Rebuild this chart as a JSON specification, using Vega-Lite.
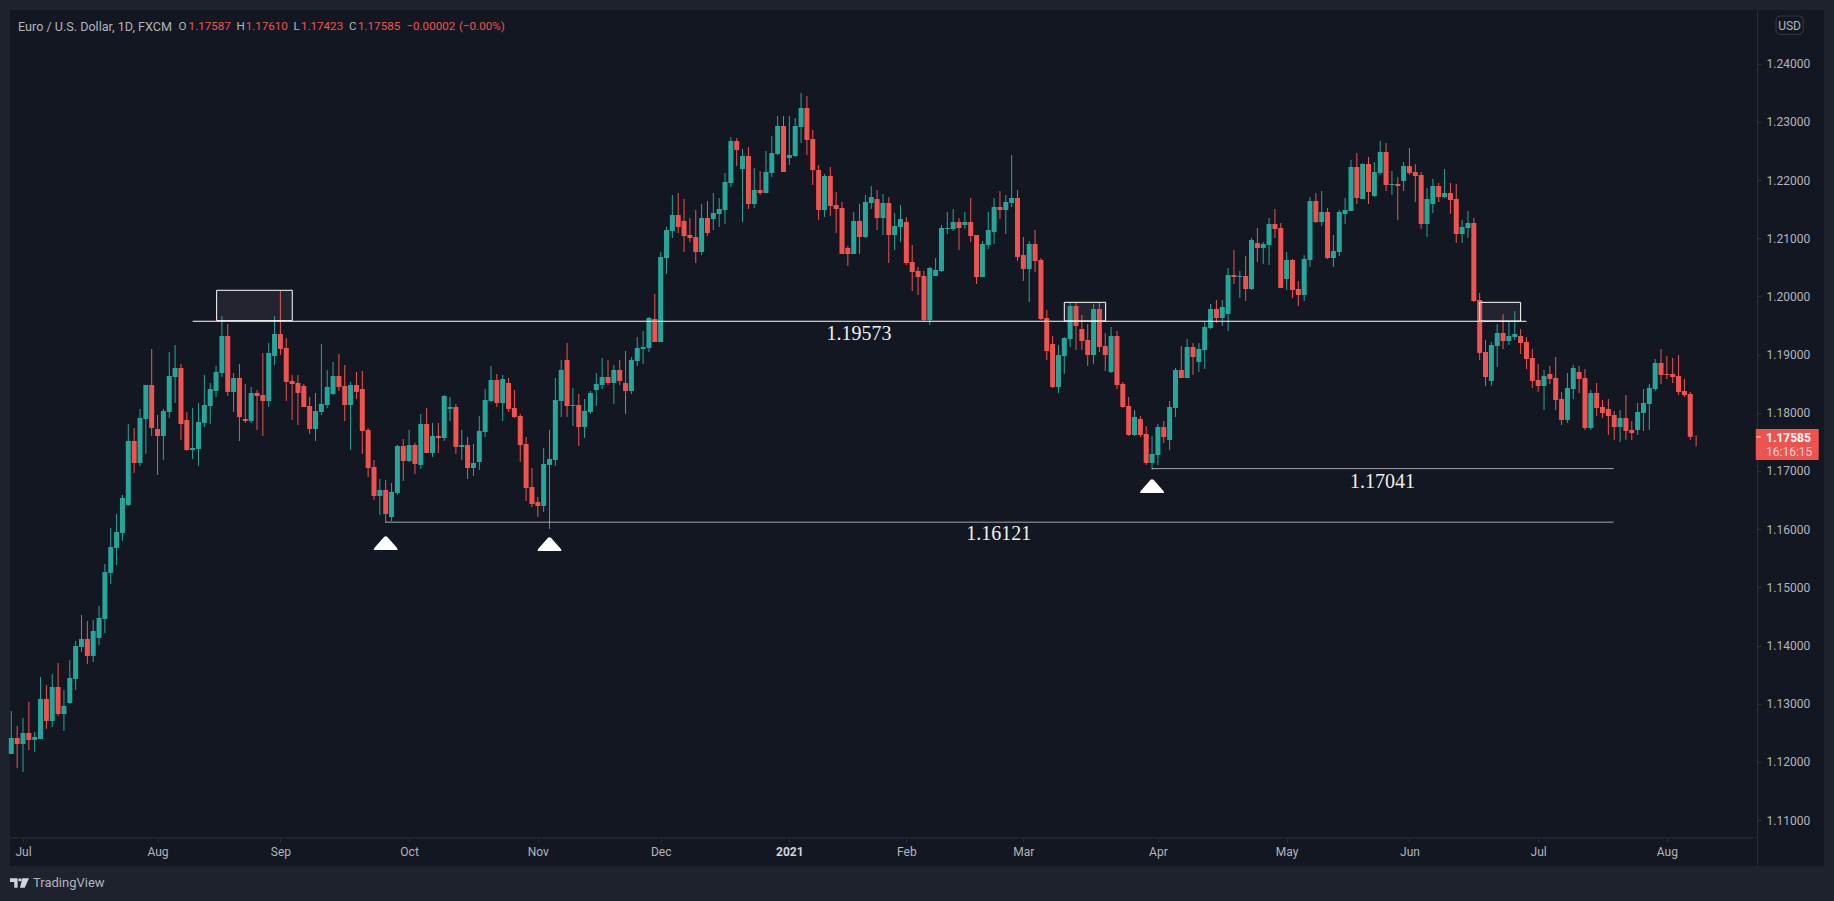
{"$schema":"https://vega.github.io/schema/vega-lite/v6.json","width":1814,"height":856,"autosize":"none","padding":{"left":10,"top":10,"right":10,"bottom":35},"background":"#1e222d","view":{"fill":"#131722","stroke":null},"config":{"font":"Roboto","scale":{"continuousPadding":0}},
"datasets":{"candles":[
{"i":1,"o":1.12138,"h":1.12877,"l":1.12138,"c":1.12413},{"i":2,"o":1.12413,"h":1.12619,"l":1.11898,"c":1.12310},{"i":3,"o":1.12310,"h":1.12757,"l":1.11829,"c":1.12499},{"i":4,"o":1.12499,"h":1.13032,"l":1.12207,"c":1.12379},{"i":5,"o":1.12379,"h":1.12516,"l":1.12173,"c":1.12430},{"i":6,"o":1.12396,"h":1.13461,"l":1.12396,"c":1.13083},{"i":7,"o":1.13083,"h":1.13324,"l":1.12568,"c":1.12705},{"i":8,"o":1.12705,"h":1.13513,"l":1.12602,"c":1.13289},{"i":9,"o":1.13289,"h":1.13702,"l":1.12791,"c":1.12825},{"i":10,"o":1.12825,"h":1.13238,"l":1.12533,"c":1.12963},
{"i":11,"o":1.13014,"h":1.13753,"l":1.12997,"c":1.13444},{"i":12,"o":1.13427,"h":1.14080,"l":1.13238,"c":1.13994},{"i":13,"o":1.13977,"h":1.14526,"l":1.13891,"c":1.14114},{"i":14,"o":1.14114,"h":1.14423,"l":1.13684,"c":1.13822},{"i":15,"o":1.13822,"h":1.14440,"l":1.13719,"c":1.14251},{"i":16,"o":1.14131,"h":1.14681,"l":1.14011,"c":1.14475},{"i":17,"o":1.14458,"h":1.15403,"l":1.14217,"c":1.15265},{"i":18,"o":1.15248,"h":1.16021,"l":1.15059,"c":1.15695},{"i":19,"o":1.15677,"h":1.16262,"l":1.15385,"c":1.15952},{"i":20,"o":1.15935,"h":1.16588,"l":1.15798,"c":1.16537},
{"i":21,"o":1.16416,"h":1.17808,"l":1.16399,"c":1.17516},{"i":22,"o":1.17516,"h":1.17739,"l":1.16966,"c":1.17138},{"i":23,"o":1.17138,"h":1.18066,"l":1.17086,"c":1.17911},{"i":24,"o":1.17894,"h":1.18478,"l":1.17293,"c":1.18478},{"i":25,"o":1.18478,"h":1.19097,"l":1.17602,"c":1.17739},{"i":26,"o":1.17722,"h":1.17963,"l":1.16932,"c":1.17602},{"i":27,"o":1.17602,"h":1.18066,"l":1.17189,"c":1.18031},{"i":28,"o":1.18014,"h":1.19045,"l":1.17911,"c":1.18633},{"i":29,"o":1.18615,"h":1.19165,"l":1.18169,"c":1.18770},{"i":30,"o":1.18770,"h":1.18839,"l":1.17533,"c":1.17808},
{"i":31,"o":1.17877,"h":1.18014,"l":1.17344,"c":1.17361},{"i":32,"o":1.17361,"h":1.18083,"l":1.17207,"c":1.17396},{"i":33,"o":1.17378,"h":1.18169,"l":1.17086,"c":1.17842},{"i":34,"o":1.17825,"h":1.18650,"l":1.17756,"c":1.18134},{"i":35,"o":1.18117,"h":1.18512,"l":1.17808,"c":1.18409},{"i":36,"o":1.18375,"h":1.18804,"l":1.18272,"c":1.18701},{"i":37,"o":1.18684,"h":1.19663,"l":1.18615,"c":1.19320},{"i":38,"o":1.19320,"h":1.19526,"l":1.18289,"c":1.18358},{"i":39,"o":1.18358,"h":1.18684,"l":1.18014,"c":1.18598},{"i":40,"o":1.18598,"h":1.18839,"l":1.17516,"c":1.17928},
{"i":41,"o":1.17894,"h":1.18495,"l":1.17825,"c":1.17859},{"i":42,"o":1.17859,"h":1.18444,"l":1.17825,"c":1.18341},{"i":43,"o":1.18341,"h":1.18392,"l":1.17705,"c":1.18289},{"i":44,"o":1.18306,"h":1.19028,"l":1.17602,"c":1.18203},{"i":45,"o":1.18203,"h":1.19200,"l":1.18100,"c":1.19028},{"i":46,"o":1.18976,"h":1.19663,"l":1.18822,"c":1.19354},{"i":47,"o":1.19354,"h":1.20093,"l":1.18993,"c":1.19097},{"i":48,"o":1.19114,"h":1.19285,"l":1.18203,"c":1.18530},{"i":49,"o":1.18547,"h":1.18650,"l":1.17877,"c":1.18495},{"i":50,"o":1.18512,"h":1.18650,"l":1.17791,"c":1.18341},
{"i":51,"o":1.18461,"h":1.18495,"l":1.18100,"c":1.18100},{"i":52,"o":1.18117,"h":1.18272,"l":1.17636,"c":1.17722},{"i":53,"o":1.17722,"h":1.18341,"l":1.17516,"c":1.18031},{"i":54,"o":1.18014,"h":1.19182,"l":1.17963,"c":1.18152},{"i":55,"o":1.18134,"h":1.18736,"l":1.18083,"c":1.18444},{"i":56,"o":1.18323,"h":1.18873,"l":1.18306,"c":1.18633},{"i":57,"o":1.18633,"h":1.19011,"l":1.18375,"c":1.18444},{"i":58,"o":1.18461,"h":1.18822,"l":1.17859,"c":1.18134},{"i":59,"o":1.18134,"h":1.18530,"l":1.17361,"c":1.18478},{"i":60,"o":1.18478,"h":1.18701,"l":1.18237,"c":1.18358},
{"i":61,"o":1.18409,"h":1.18719,"l":1.17293,"c":1.17688},{"i":62,"o":1.17705,"h":1.17739,"l":1.16897,"c":1.17052},{"i":63,"o":1.17069,"h":1.17189,"l":1.16502,"c":1.16571},{"i":64,"o":1.16571,"h":1.16863,"l":1.16244,"c":1.16674},{"i":65,"o":1.16674,"h":1.16846,"l":1.16107,"c":1.16262},{"i":66,"o":1.16210,"h":1.16794,"l":1.16141,"c":1.16640},{"i":67,"o":1.16622,"h":1.17447,"l":1.16588,"c":1.17430},{"i":68,"o":1.17430,"h":1.17550,"l":1.16829,"c":1.17172},{"i":69,"o":1.17172,"h":1.17705,"l":1.17155,"c":1.17447},{"i":70,"o":1.17447,"h":1.17482,"l":1.16949,"c":1.17121},
{"i":71,"o":1.17104,"h":1.17980,"l":1.17035,"c":1.17808},{"i":72,"o":1.17808,"h":1.18083,"l":1.17310,"c":1.17310},{"i":73,"o":1.17310,"h":1.17825,"l":1.17241,"c":1.17602},{"i":74,"o":1.17602,"h":1.17825,"l":1.17310,"c":1.17567},{"i":75,"o":1.17567,"h":1.18306,"l":1.17516,"c":1.18289},{"i":76,"o":1.18066,"h":1.18272,"l":1.17859,"c":1.18100},{"i":77,"o":1.18100,"h":1.18152,"l":1.17293,"c":1.17413},{"i":78,"o":1.17413,"h":1.17705,"l":1.17189,"c":1.17447},{"i":79,"o":1.17447,"h":1.17585,"l":1.16863,"c":1.17052},{"i":80,"o":1.17052,"h":1.17464,"l":1.16915,"c":1.17138},
{"i":81,"o":1.17155,"h":1.17945,"l":1.17018,"c":1.17688},{"i":82,"o":1.17670,"h":1.18409,"l":1.17585,"c":1.18220},{"i":83,"o":1.18203,"h":1.18804,"l":1.18186,"c":1.18564},{"i":84,"o":1.18564,"h":1.18667,"l":1.18100,"c":1.18169},{"i":85,"o":1.18169,"h":1.18650,"l":1.17859,"c":1.18581},{"i":86,"o":1.18512,"h":1.18598,"l":1.18014,"c":1.18066},{"i":87,"o":1.18083,"h":1.18392,"l":1.17911,"c":1.17928},{"i":88,"o":1.17945,"h":1.17980,"l":1.17155,"c":1.17447},{"i":89,"o":1.17464,"h":1.17585,"l":1.16485,"c":1.16708},{"i":90,"o":1.16726,"h":1.17052,"l":1.16382,"c":1.16433},
{"i":91,"o":1.16468,"h":1.16554,"l":1.16210,"c":1.16399},{"i":92,"o":1.16399,"h":1.17396,"l":1.16296,"c":1.17121},{"i":93,"o":1.17104,"h":1.17705,"l":1.16004,"c":1.17207},{"i":94,"o":1.17189,"h":1.18598,"l":1.17086,"c":1.18220},{"i":95,"o":1.18203,"h":1.18908,"l":1.17928,"c":1.18736},{"i":96,"o":1.18908,"h":1.19200,"l":1.17928,"c":1.18117},{"i":97,"o":1.18117,"h":1.18426,"l":1.17774,"c":1.18134},{"i":98,"o":1.18134,"h":1.18323,"l":1.17430,"c":1.17756},{"i":99,"o":1.17756,"h":1.18237,"l":1.17567,"c":1.18031},{"i":100,"o":1.18014,"h":1.18375,"l":1.17980,"c":1.18341},
{"i":101,"o":1.18392,"h":1.18684,"l":1.18117,"c":1.18495},{"i":102,"o":1.18478,"h":1.18942,"l":1.18409,"c":1.18615},{"i":103,"o":1.18615,"h":1.18908,"l":1.18478,"c":1.18512},{"i":104,"o":1.18512,"h":1.18822,"l":1.18152,"c":1.18736},{"i":105,"o":1.18736,"h":1.18908,"l":1.18478,"c":1.18547},{"i":106,"o":1.18512,"h":1.19062,"l":1.17980,"c":1.18375},{"i":107,"o":1.18375,"h":1.18959,"l":1.18323,"c":1.18908},{"i":108,"o":1.18890,"h":1.19303,"l":1.18804,"c":1.19114},{"i":109,"o":1.19097,"h":1.19406,"l":1.18839,"c":1.19131},{"i":110,"o":1.19114,"h":1.19646,"l":1.19045,"c":1.19629},
{"i":111,"o":1.19612,"h":1.20041,"l":1.19217,"c":1.19217},{"i":112,"o":1.19217,"h":1.20763,"l":1.19217,"c":1.20677},{"i":113,"o":1.20660,"h":1.21192,"l":1.20385,"c":1.21141},{"i":114,"o":1.21124,"h":1.21742,"l":1.21003,"c":1.21399},{"i":115,"o":1.21399,"h":1.21777,"l":1.21089,"c":1.21192},{"i":116,"o":1.21295,"h":1.21673,"l":1.20763,"c":1.21038},{"i":117,"o":1.21055,"h":1.21347,"l":1.20935,"c":1.21003},{"i":118,"o":1.21021,"h":1.21484,"l":1.20574,"c":1.20763},{"i":119,"o":1.20763,"h":1.21588,"l":1.20711,"c":1.21347},{"i":120,"o":1.21347,"h":1.21639,"l":1.21038,"c":1.21089},
{"i":121,"o":1.21330,"h":1.21777,"l":1.21141,"c":1.21433},{"i":122,"o":1.21416,"h":1.21691,"l":1.21192,"c":1.21502},{"i":123,"o":1.21484,"h":1.22120,"l":1.21244,"c":1.21966},{"i":124,"o":1.21948,"h":1.22739,"l":1.21880,"c":1.22670},{"i":125,"o":1.22670,"h":1.22721,"l":1.22240,"c":1.22515},{"i":126,"o":1.22189,"h":1.22533,"l":1.21278,"c":1.22412},{"i":127,"o":1.22412,"h":1.22567,"l":1.21502,"c":1.21588},{"i":128,"o":1.21588,"h":1.22206,"l":1.21519,"c":1.21828},{"i":129,"o":1.21828,"h":1.22155,"l":1.21742,"c":1.21777},{"i":130,"o":1.21777,"h":1.22498,"l":1.21777,"c":1.22137},
{"i":131,"o":1.22120,"h":1.22756,"l":1.22051,"c":1.22464},{"i":132,"o":1.22447,"h":1.23099,"l":1.22429,"c":1.22928},{"i":133,"o":1.22928,"h":1.23099,"l":1.22137,"c":1.22137},{"i":134,"o":1.22378,"h":1.23099,"l":1.22258,"c":1.22429},{"i":135,"o":1.22412,"h":1.23065,"l":1.22395,"c":1.22928},{"i":136,"o":1.22910,"h":1.23495,"l":1.22636,"c":1.23237},{"i":137,"o":1.23237,"h":1.23443,"l":1.22429,"c":1.22687},{"i":138,"o":1.22704,"h":1.22859,"l":1.21914,"c":1.22172},{"i":139,"o":1.22172,"h":1.22258,"l":1.21313,"c":1.21484},{"i":140,"o":1.21484,"h":1.22103,"l":1.21364,"c":1.22069},
{"i":141,"o":1.22069,"h":1.22223,"l":1.21381,"c":1.21553},{"i":142,"o":1.21570,"h":1.21794,"l":1.21089,"c":1.21502},{"i":143,"o":1.21519,"h":1.21622,"l":1.20729,"c":1.20729},{"i":144,"o":1.20832,"h":1.20866,"l":1.20522,"c":1.20729},{"i":145,"o":1.20729,"h":1.21450,"l":1.20729,"c":1.21295},{"i":146,"o":1.21295,"h":1.21588,"l":1.20729,"c":1.21021},{"i":147,"o":1.21021,"h":1.21742,"l":1.21003,"c":1.21622},{"i":148,"o":1.21605,"h":1.21897,"l":1.21502,"c":1.21708},{"i":149,"o":1.21673,"h":1.21828,"l":1.21141,"c":1.21347},{"i":150,"o":1.21347,"h":1.21759,"l":1.21055,"c":1.21605},
{"i":151,"o":1.21605,"h":1.21708,"l":1.20574,"c":1.21055},{"i":152,"o":1.21055,"h":1.21433,"l":1.20797,"c":1.21210},{"i":153,"o":1.21192,"h":1.21570,"l":1.20935,"c":1.21330},{"i":154,"o":1.21278,"h":1.21364,"l":1.20540,"c":1.20574},{"i":155,"o":1.20591,"h":1.20883,"l":1.20093,"c":1.20419},{"i":156,"o":1.20436,"h":1.20505,"l":1.20024,"c":1.20333},{"i":157,"o":1.20351,"h":1.20436,"l":1.19577,"c":1.19595},{"i":158,"o":1.19595,"h":1.20505,"l":1.19509,"c":1.20488},{"i":159,"o":1.20351,"h":1.20660,"l":1.20351,"c":1.20454},{"i":160,"o":1.20436,"h":1.21227,"l":1.20419,"c":1.21175},
{"i":161,"o":1.21158,"h":1.21450,"l":1.21072,"c":1.21175},{"i":162,"o":1.21158,"h":1.21502,"l":1.21124,"c":1.21278},{"i":163,"o":1.21278,"h":1.21347,"l":1.20797,"c":1.21175},{"i":164,"o":1.21227,"h":1.21450,"l":1.21158,"c":1.21278},{"i":165,"o":1.21278,"h":1.21691,"l":1.20935,"c":1.21038},{"i":166,"o":1.21055,"h":1.21055,"l":1.20213,"c":1.20333},{"i":167,"o":1.20333,"h":1.20952,"l":1.20333,"c":1.20900},{"i":168,"o":1.20883,"h":1.21450,"l":1.20814,"c":1.21141},{"i":169,"o":1.21106,"h":1.21691,"l":1.20900,"c":1.21536},{"i":170,"o":1.21536,"h":1.21811,"l":1.21330,"c":1.21484},
{"i":171,"o":1.21484,"h":1.21742,"l":1.21072,"c":1.21622},{"i":172,"o":1.21605,"h":1.22429,"l":1.21536,"c":1.21691},{"i":173,"o":1.21691,"h":1.21828,"l":1.20608,"c":1.20677},{"i":174,"o":1.20711,"h":1.21021,"l":1.20265,"c":1.20471},{"i":175,"o":1.20471,"h":1.20952,"l":1.19904,"c":1.20900},{"i":176,"o":1.20900,"h":1.21141,"l":1.20419,"c":1.20608},{"i":177,"o":1.20625,"h":1.20660,"l":1.19595,"c":1.19612},{"i":178,"o":1.19629,"h":1.19766,"l":1.18907,"c":1.19062},{"i":179,"o":1.19182,"h":1.19320,"l":1.18426,"c":1.18443},{"i":180,"o":1.18443,"h":1.19165,"l":1.18340,"c":1.18993},
{"i":181,"o":1.18976,"h":1.19303,"l":1.18667,"c":1.19285},{"i":182,"o":1.19268,"h":1.19887,"l":1.19131,"c":1.19835},{"i":183,"o":1.19835,"h":1.19887,"l":1.19079,"c":1.19492},{"i":184,"o":1.19440,"h":1.19681,"l":1.19079,"c":1.19234},{"i":185,"o":1.19251,"h":1.19526,"l":1.18804,"c":1.18993},{"i":186,"o":1.18993,"h":1.19870,"l":1.18839,"c":1.19784},{"i":187,"o":1.19784,"h":1.19887,"l":1.19045,"c":1.19131},{"i":188,"o":1.19148,"h":1.19371,"l":1.18718,"c":1.18993},{"i":189,"o":1.18701,"h":1.19474,"l":1.18684,"c":1.19320},{"i":190,"o":1.19320,"h":1.19406,"l":1.18409,"c":1.18478},
{"i":191,"o":1.18495,"h":1.18529,"l":1.18083,"c":1.18100},{"i":192,"o":1.18117,"h":1.18272,"l":1.17602,"c":1.17619},{"i":193,"o":1.17619,"h":1.18048,"l":1.17602,"c":1.17928},{"i":194,"o":1.17894,"h":1.17945,"l":1.17584,"c":1.17619},{"i":195,"o":1.17636,"h":1.17773,"l":1.17103,"c":1.17138},{"i":196,"o":1.17138,"h":1.17602,"l":1.17017,"c":1.17292},{"i":197,"o":1.17275,"h":1.17808,"l":1.17103,"c":1.17756},{"i":198,"o":1.17756,"h":1.17859,"l":1.17481,"c":1.17584},{"i":199,"o":1.17533,"h":1.18203,"l":1.17361,"c":1.18100},{"i":200,"o":1.18083,"h":1.18770,"l":1.17928,"c":1.18736},
{"i":201,"o":1.18736,"h":1.19148,"l":1.18598,"c":1.18598},{"i":202,"o":1.18598,"h":1.19268,"l":1.18598,"c":1.19131},{"i":203,"o":1.19131,"h":1.19199,"l":1.18650,"c":1.18959},{"i":204,"o":1.18873,"h":1.19199,"l":1.18701,"c":1.19096},{"i":205,"o":1.19079,"h":1.19560,"l":1.18753,"c":1.19474},{"i":206,"o":1.19457,"h":1.19870,"l":1.19440,"c":1.19784},{"i":207,"o":1.19784,"h":1.19938,"l":1.19543,"c":1.19629},{"i":208,"o":1.19629,"h":1.19938,"l":1.19492,"c":1.19818},{"i":209,"o":1.19698,"h":1.20488,"l":1.19406,"c":1.20368},{"i":210,"o":1.20368,"h":1.20797,"l":1.20213,"c":1.20333},
{"i":211,"o":1.20333,"h":1.20436,"l":1.19973,"c":1.20351},{"i":212,"o":1.20351,"h":1.20694,"l":1.19921,"c":1.20127},{"i":213,"o":1.20127,"h":1.21003,"l":1.20110,"c":1.20969},{"i":214,"o":1.20918,"h":1.21175,"l":1.20591,"c":1.20832},{"i":215,"o":1.20832,"h":1.20935,"l":1.20557,"c":1.20900},{"i":216,"o":1.20883,"h":1.21347,"l":1.20540,"c":1.21244},{"i":217,"o":1.21244,"h":1.21502,"l":1.21003,"c":1.21158},{"i":218,"o":1.21175,"h":1.21261,"l":1.20144,"c":1.20144},{"i":219,"o":1.20299,"h":1.20763,"l":1.20110,"c":1.20625},{"i":220,"o":1.20625,"h":1.20643,"l":1.19973,"c":1.20110},
{"i":221,"o":1.20127,"h":1.20265,"l":1.19835,"c":1.20024},{"i":222,"o":1.20024,"h":1.20711,"l":1.19921,"c":1.20643},{"i":223,"o":1.20625,"h":1.21708,"l":1.20505,"c":1.21639},{"i":224,"o":1.21639,"h":1.21777,"l":1.21261,"c":1.21278},{"i":225,"o":1.21278,"h":1.21811,"l":1.21210,"c":1.21450},{"i":226,"o":1.21450,"h":1.21519,"l":1.20643,"c":1.20660},{"i":227,"o":1.20660,"h":1.21055,"l":1.20505,"c":1.20780},{"i":228,"o":1.20763,"h":1.21485,"l":1.20694,"c":1.21450},{"i":229,"o":1.21416,"h":1.21691,"l":1.21244,"c":1.21485},{"i":230,"o":1.21467,"h":1.22344,"l":1.21467,"c":1.22223},
{"i":231,"o":1.22223,"h":1.22464,"l":1.21588,"c":1.21691},{"i":232,"o":1.21674,"h":1.22292,"l":1.21674,"c":1.22275},{"i":233,"o":1.22275,"h":1.22395,"l":1.21588,"c":1.21794},{"i":234,"o":1.21725,"h":1.22309,"l":1.21708,"c":1.22137},{"i":235,"o":1.22120,"h":1.22670,"l":1.22086,"c":1.22481},{"i":236,"o":1.22481,"h":1.22636,"l":1.21811,"c":1.21914},{"i":237,"o":1.21914,"h":1.22155,"l":1.21742,"c":1.21931},{"i":238,"o":1.21931,"h":1.22051,"l":1.21313,"c":1.21897},{"i":239,"o":1.21983,"h":1.22309,"l":1.21811,"c":1.22240},{"i":240,"o":1.22240,"h":1.22550,"l":1.22086,"c":1.22120},
{"i":241,"o":1.22137,"h":1.22275,"l":1.21622,"c":1.22069},{"i":242,"o":1.22086,"h":1.22137,"l":1.21158,"c":1.21244},{"i":243,"o":1.21244,"h":1.21862,"l":1.21021,"c":1.21674},{"i":244,"o":1.21588,"h":1.22017,"l":1.21433,"c":1.21897},{"i":245,"o":1.21897,"h":1.21948,"l":1.21622,"c":1.21708},{"i":246,"o":1.21708,"h":1.22189,"l":1.21691,"c":1.21777},{"i":247,"o":1.21777,"h":1.21948,"l":1.21416,"c":1.21656},{"i":248,"o":1.21674,"h":1.21931,"l":1.20918,"c":1.21072},{"i":249,"o":1.21072,"h":1.21313,"l":1.20918,"c":1.21192},{"i":250,"o":1.21175,"h":1.21467,"l":1.21003,"c":1.21261},
{"i":251,"o":1.21261,"h":1.21347,"l":1.19904,"c":1.19921},{"i":252,"o":1.19938,"h":1.20059,"l":1.18907,"c":1.19028},{"i":253,"o":1.19045,"h":1.19251,"l":1.18461,"c":1.18615},{"i":254,"o":1.18547,"h":1.19217,"l":1.18461,"c":1.19165},{"i":255,"o":1.19148,"h":1.19526,"l":1.18787,"c":1.19371},{"i":256,"o":1.19371,"h":1.19698,"l":1.19096,"c":1.19234},{"i":257,"o":1.19234,"h":1.19560,"l":1.19165,"c":1.19320},{"i":258,"o":1.19303,"h":1.19749,"l":1.19251,"c":1.19354},{"i":259,"o":1.19320,"h":1.19440,"l":1.19010,"c":1.19199},{"i":260,"o":1.19217,"h":1.19303,"l":1.18753,"c":1.18925},
{"i":261,"o":1.18942,"h":1.19096,"l":1.18426,"c":1.18547},{"i":262,"o":1.18564,"h":1.18839,"l":1.18358,"c":1.18461},{"i":263,"o":1.18461,"h":1.18736,"l":1.18048,"c":1.18633},{"i":264,"o":1.18667,"h":1.18804,"l":1.18495,"c":1.18581},{"i":265,"o":1.18598,"h":1.18959,"l":1.18048,"c":1.18220},{"i":266,"o":1.18237,"h":1.18358,"l":1.17791,"c":1.17877},{"i":267,"o":1.17877,"h":1.18684,"l":1.17825,"c":1.18426},{"i":268,"o":1.18409,"h":1.18821,"l":1.18237,"c":1.18770},{"i":269,"o":1.18701,"h":1.18804,"l":1.18340,"c":1.18581},{"i":270,"o":1.18598,"h":1.18753,"l":1.17705,"c":1.17739},
{"i":271,"o":1.17739,"h":1.18392,"l":1.17705,"c":1.18340},{"i":272,"o":1.18340,"h":1.18512,"l":1.17945,"c":1.18083},{"i":273,"o":1.18100,"h":1.18220,"l":1.17911,"c":1.17997},{"i":274,"o":1.18066,"h":1.18237,"l":1.17619,"c":1.17945},{"i":275,"o":1.17962,"h":1.18031,"l":1.17533,"c":1.17756},{"i":276,"o":1.17756,"h":1.18048,"l":1.17498,"c":1.17911},{"i":277,"o":1.17911,"h":1.18306,"l":1.17533,"c":1.17688},{"i":278,"o":1.17705,"h":1.17859,"l":1.17533,"c":1.17653},{"i":279,"o":1.17705,"h":1.18169,"l":1.17619,"c":1.18014},{"i":280,"o":1.17997,"h":1.18409,"l":1.17688,"c":1.18169},
{"i":281,"o":1.18151,"h":1.18495,"l":1.17705,"c":1.18426},{"i":282,"o":1.18409,"h":1.18925,"l":1.18375,"c":1.18856},{"i":283,"o":1.18856,"h":1.19096,"l":1.18495,"c":1.18650},{"i":284,"o":1.18667,"h":1.18976,"l":1.18581,"c":1.18650},{"i":285,"o":1.18667,"h":1.18942,"l":1.18512,"c":1.18615},{"i":286,"o":1.18633,"h":1.18993,"l":1.18306,"c":1.18358},{"i":287,"o":1.18375,"h":1.18581,"l":1.18272,"c":1.18306},{"i":288,"o":1.18323,"h":1.18358,"l":1.17533,"c":1.17587},{"i":289,"o":1.17587,"h":1.17610,"l":1.17423,"c":1.17585}
],
"mainLine":[{"a":32,"b":260,"p":1.19573}],
"minorLines":[{"a":65,"b":274.9,"p":1.16121},{"a":196,"b":274.9,"p":1.17041}],
"levelText":[{"t":"1.19573","i":145.9,"p":1.19354},{"t":"1.17041","i":235.4,"p":1.16806},{"t":"1.16121","i":169.8,"p":1.15909}],
"boxes":[{"a":36.1,"b":49.03,"p1":1.20105,"p2":1.19583},{"a":181,"b":188.07,"p1":1.19898,"p2":1.19577},{"a":252,"b":259,"p1":1.19898,"p2":1.19577}],
"arrows":[{"i":65,"p":1.15763},{"i":93,"p":1.15746},{"i":196,"p":1.16742}],
"symbolTitle":[{"t":"Euro / U.S. Dollar, 1D, FXCM","i":2.145,"p":1.24629}],
"header":[{"t":"O","i":29.6,"p":1.24629,"k":"label"},{"t":"1.17587","i":31.31,"p":1.24629,"k":"value"},{"t":"H","i":39.48,"p":1.24629,"k":"label"},{"t":"1.17610","i":41.07,"p":1.24629,"k":"value"},{"t":"L","i":49.26,"p":1.24629,"k":"label"},{"t":"1.17423","i":50.52,"p":1.24629,"k":"value"},{"t":"C","i":58.73,"p":1.24629,"k":"label"},{"t":"1.17585","i":60.27,"p":1.24629,"k":"value"},{"t":"−0.00002","i":68.54,"p":1.24629,"k":"value"},{"t":"(−0.00%)","i":77.53,"p":1.24629,"k":"value"}]
},
"layer":[
{"data":{"name":"candles"},"mark":{"type":"rule","strokeWidth":1},"encoding":{"x":{"field":"i","type":"quantitative","scale":{"domain":[0.778,310.86],"nice":false,"zero":false},"axis":{"orient":"bottom","offset":-28,"domain":false,"grid":false,"title":null,"values":[3,26,47,69,91,112,134,154,174,197,219,240,262,284],"labelExpr":"{'3':'Jul','26':'Aug','47':'Sep','69':'Oct','91':'Nov','112':'Dec','134':'2021','154':'Feb','174':'Mar','197':'Apr','219':'May','240':'Jun','262':'Jul','284':'Aug'}[''+datum.value]","labelColor":{"condition":{"test":"datum.value==134","value":"#d1d4dc"},"value":"#b2b5be"},"labelFontWeight":{"condition":{"test":"datum.value==134","value":"bold"},"value":"normal"},"labelFont":"Roboto","labelFontSize":12,"labelPadding":4,"labelOverlap":false,"labelFlush":false,"tickSize":4,"tickColor":"#2a2e39"}},"y":{"field":"l","type":"quantitative","scale":{"domain":[1.10213,1.24921],"nice":false,"zero":false},"axis":{"orient":"right","offset":-67,"grid":false,"title":null,"values":[1.11,1.12,1.13,1.14,1.15,1.16,1.17,1.18,1.19,1.2,1.21,1.22,1.23,1.24],"format":".5f","domainColor":"#2a2e39","tickColor":"#2a2e39","tickSize":4,"labelColor":"#b2b5be","labelFont":"Roboto","labelFontSize":12,"labelPadding":5,"labelOverlap":false,"labelFlush":false}},"y2":{"field":"h"},"color":{"condition":{"test":"datum.c>=datum.o","value":"#26a69a"},"value":"#ef5350"}}},
{"data":{"name":"candles"},"mark":{"type":"bar","size":5,"orient":"vertical"},"encoding":{"x":{"field":"i","type":"quantitative","scale":{"domain":[0.778,310.86],"nice":false,"zero":false,"padding":0}},"y":{"field":"o","type":"quantitative","scale":{"domain":[1.10213,1.24921],"nice":false,"zero":false}},"y2":{"field":"c"},"color":{"condition":{"test":"datum.c>=datum.o","value":"#26a69a"},"value":"#ef5350"}}},
{"data":{"values":[{"a":0.778,"b":299.3,"p":1.10694}]},"mark":{"type":"rule","color":"#2a2e39","strokeWidth":1},"encoding":{"x":{"field":"a","type":"quantitative","scale":{"domain":[0.778,310.86],"nice":false,"zero":false}},"x2":{"field":"b"},"y":{"field":"p","type":"quantitative","scale":{"domain":[1.10213,1.24921],"nice":false,"zero":false}}}},
{"data":{"name":"boxes"},"mark":{"type":"rect","fill":"#787b86","fillOpacity":0.15,"stroke":"#ffffff","strokeWidth":1},"encoding":{"x":{"field":"a","type":"quantitative","scale":{"domain":[0.778,310.86],"nice":false,"zero":false}},"x2":{"field":"b"},"y":{"field":"p1","type":"quantitative","scale":{"domain":[1.10213,1.24921],"nice":false,"zero":false}},"y2":{"field":"p2"}}},
{"data":{"name":"minorLines"},"mark":{"type":"rule","color":"#a6a7ad","strokeWidth":1},"encoding":{"x":{"field":"a","type":"quantitative","scale":{"domain":[0.778,310.86],"nice":false,"zero":false}},"x2":{"field":"b"},"y":{"field":"p","type":"quantitative","scale":{"domain":[1.10213,1.24921],"nice":false,"zero":false}}}},
{"data":{"name":"mainLine"},"mark":{"type":"rule","color":"#ffffff","strokeWidth":1},"encoding":{"x":{"field":"a","type":"quantitative","scale":{"domain":[0.778,310.86],"nice":false,"zero":false}},"x2":{"field":"b"},"y":{"field":"p","type":"quantitative","scale":{"domain":[1.10213,1.24921],"nice":false,"zero":false}}}},
{"data":{"name":"levelText"},"mark":{"type":"text","font":"Liberation Serif","fontSize":20,"color":"#f0f0f0","align":"center","baseline":"middle"},"encoding":{"x":{"field":"i","type":"quantitative","scale":{"domain":[0.778,310.86],"nice":false,"zero":false}},"y":{"field":"p","type":"quantitative","scale":{"domain":[1.10213,1.24921],"nice":false,"zero":false}},"text":{"field":"t"}}},
{"data":{"name":"arrows"},"mark":{"type":"point","filled":true,"opacity":1,"size":576,"color":"#ffffff","strokeWidth":0,"shape":"M-1,0.58 L-0.95,0.42 L-0.12,-0.52 Q0,-0.62 0.12,-0.52 L0.95,0.42 L1,0.58 Z"},"encoding":{"x":{"field":"i","type":"quantitative","scale":{"domain":[0.778,310.86],"nice":false,"zero":false}},"y":{"field":"p","type":"quantitative","scale":{"domain":[1.10213,1.24921],"nice":false,"zero":false}}}},
{"data":{"name":"symbolTitle"},"mark":{"type":"text","font":"Roboto","fontSize":12.6,"color":"#b2b5be","align":"left","baseline":"middle"},"encoding":{"x":{"field":"i","type":"quantitative","scale":{"domain":[0.778,310.86],"nice":false,"zero":false}},"y":{"field":"p","type":"quantitative","scale":{"domain":[1.10213,1.24921],"nice":false,"zero":false}},"text":{"field":"t"}}},
{"data":{"name":"header"},"mark":{"type":"text","font":"Roboto","fontSize":11.6,"align":"left","baseline":"middle"},"encoding":{"x":{"field":"i","type":"quantitative","scale":{"domain":[0.778,310.86],"nice":false,"zero":false}},"y":{"field":"p","type":"quantitative","scale":{"domain":[1.10213,1.24921],"nice":false,"zero":false}},"text":{"field":"t"},"color":{"field":"k","type":"nominal","scale":{"domain":["label","value"],"range":["#b2b5be","#ef5350"]},"legend":null}}},
{"data":{"values":[{"a":299.2,"b":309.96,"p1":1.17722,"p2":1.17189}]},"mark":{"type":"rect","fill":"#ef5350","cornerRadius":1},"encoding":{"x":{"field":"a","type":"quantitative","scale":{"domain":[0.778,310.86],"nice":false,"zero":false}},"x2":{"field":"b"},"y":{"field":"p1","type":"quantitative","scale":{"domain":[1.10213,1.24921],"nice":false,"zero":false}},"y2":{"field":"p2"}}},
{"data":{"values":[{"a":299.3,"b":300.0,"p":1.17585}]},"mark":{"type":"rule","color":"#ffffff","strokeWidth":1},"encoding":{"x":{"field":"a","type":"quantitative","scale":{"domain":[0.778,310.86],"nice":false,"zero":false}},"x2":{"field":"b"},"y":{"field":"p","type":"quantitative","scale":{"domain":[1.10213,1.24921],"nice":false,"zero":false}}}},
{"data":{"values":[{"t":"1.17585","i":300.95,"p":1.17572}]},"mark":{"type":"text","font":"Roboto","fontSize":12,"fontWeight":"bold","color":"#ffffff","align":"left","baseline":"middle"},"encoding":{"x":{"field":"i","type":"quantitative","scale":{"domain":[0.778,310.86],"nice":false,"zero":false}},"y":{"field":"p","type":"quantitative","scale":{"domain":[1.10213,1.24921],"nice":false,"zero":false}},"text":{"field":"t"}}},
{"data":{"values":[{"t":"16:16:15","i":300.95,"p":1.17331}]},"mark":{"type":"text","font":"Roboto","fontSize":12,"color":"#fbd5d5","align":"left","baseline":"middle"},"encoding":{"x":{"field":"i","type":"quantitative","scale":{"domain":[0.778,310.86],"nice":false,"zero":false}},"y":{"field":"p","type":"quantitative","scale":{"domain":[1.10213,1.24921],"nice":false,"zero":false}},"text":{"field":"t"}}},
{"data":{"values":[{"a":302.66,"b":307.3,"p1":1.24818,"p2":1.24503}]},"mark":{"type":"rect","fillOpacity":0,"stroke":"#363a45","strokeWidth":1,"cornerRadius":4},"encoding":{"x":{"field":"a","type":"quantitative","scale":{"domain":[0.778,310.86],"nice":false,"zero":false}},"x2":{"field":"b"},"y":{"field":"p1","type":"quantitative","scale":{"domain":[1.10213,1.24921],"nice":false,"zero":false}},"y2":{"field":"p2"}}},
{"data":{"values":[{"t":"USD","i":304.97,"p":1.24651}]},"mark":{"type":"text","font":"Roboto","fontSize":12,"color":"#b2b5be","align":"center","baseline":"middle"},"encoding":{"x":{"field":"i","type":"quantitative","scale":{"domain":[0.778,310.86],"nice":false,"zero":false}},"y":{"field":"p","type":"quantitative","scale":{"domain":[1.10213,1.24921],"nice":false,"zero":false}},"text":{"field":"t"}}},
{"data":{"values":[{"t":"TradingView","i":4.71,"p":1.09921}]},"mark":{"type":"text","font":"Roboto","fontSize":13,"color":"#b2b5be","align":"left","baseline":"middle"},"encoding":{"x":{"field":"i","type":"quantitative","scale":{"domain":[0.778,310.86],"nice":false,"zero":false}},"y":{"field":"p","type":"quantitative","scale":{"domain":[1.10213,1.24921],"nice":false,"zero":false}},"text":{"field":"t"}}},
{"data":{"values":[{"i":2.4,"p":1.09921}]},"mark":{"type":"point","filled":true,"opacity":1,"size":361,"color":"#d1d4dc","strokeWidth":0,"shape":"M-1,-0.5 H-0.2 V0.5 H-0.55 V-0.1 H-1 Z M0.05,-0.5 A0.17,0.17 0 1 1 0.05,-0.16 A0.17,0.17 0 1 1 0.05,-0.5 Z M0.3,-0.5 H1 L0.55,0.5 H0.05 Z"},"encoding":{"x":{"field":"i","type":"quantitative","scale":{"domain":[0.778,310.86],"nice":false,"zero":false}},"y":{"field":"p","type":"quantitative","scale":{"domain":[1.10213,1.24921],"nice":false,"zero":false}}}}
]}
